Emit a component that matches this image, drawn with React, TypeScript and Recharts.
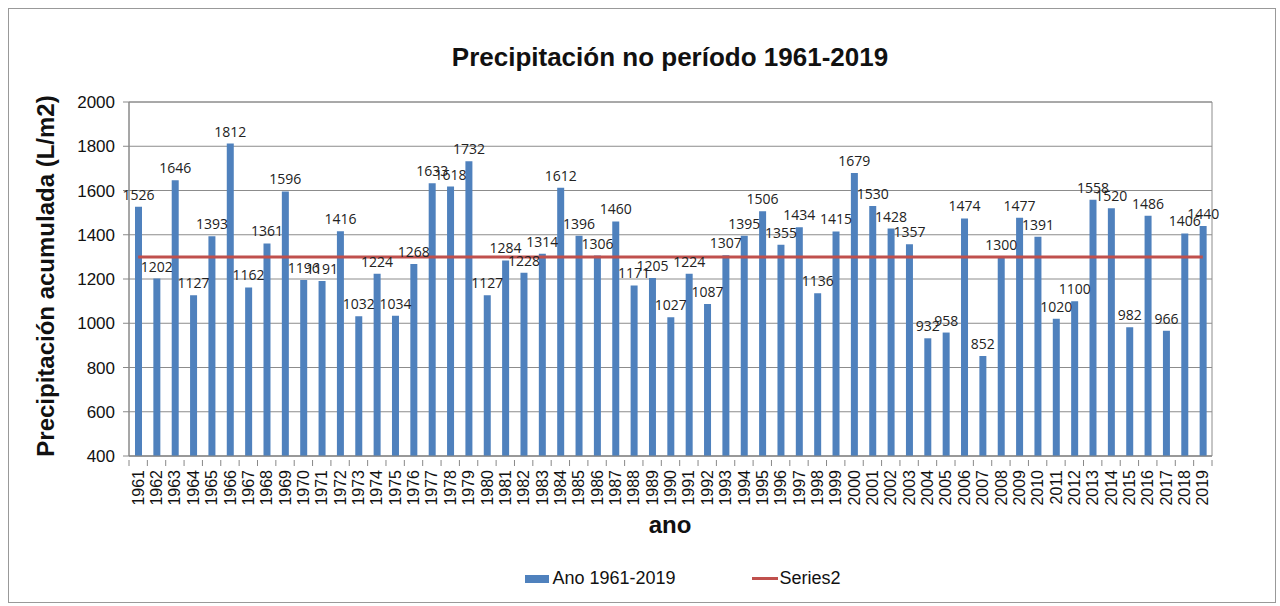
import { ComposedChart, Bar, Line, XAxis, YAxis, CartesianGrid, LabelList, Legend, ReferenceArea } from "recharts";

const anos = [
  "1961", "1962", "1963", "1964", "1965", "1966", "1967", "1968", "1969", "1970",
  "1971", "1972", "1973", "1974", "1975", "1976", "1977", "1978", "1979", "1980",
  "1981", "1982", "1983", "1984", "1985", "1986", "1987", "1988", "1989", "1990",
  "1991", "1992", "1993", "1994", "1995", "1996", "1997", "1998", "1999", "2000",
  "2001", "2002", "2003", "2004", "2005", "2006", "2007", "2008", "2009", "2010",
  "2011", "2012", "2013", "2014", "2015", "2016", "2017", "2018", "2019",
];

const precipitacion = [
  1526, 1202, 1646, 1127, 1393, 1812, 1162, 1361, 1596, 1196,
  1191, 1416, 1032, 1224, 1034, 1268, 1633, 1618, 1732, 1127,
  1284, 1228, 1314, 1612, 1396, 1306, 1460, 1171, 1205, 1027,
  1224, 1087, 1307, 1395, 1506, 1355, 1434, 1136, 1415, 1679,
  1530, 1428, 1357, 932, 958, 1474, 852, 1300, 1477, 1391,
  1020, 1100, 1558, 1520, 982, 1486, 966, 1406, 1440,
];

// Series2: media do período (linha horizontal)
const media = 1300;

const yTicks = [400, 600, 800, 1000, 1200, 1400, 1600, 1800, 2000];

const data = anos.map((ano, i) => ({ ano, valor: precipitacion[i], media }));

const FONT = "'Liberation Sans', Arial, sans-serif";
const PLOT_LEFT = 129;
const PLOT_RIGHT = 1212;
const HALF_BAND = (PLOT_RIGHT - PLOT_LEFT) / anos.length / 2;

const YearTick = (props: any) => {
  const { x, y, payload, index } = props;
  const last = index === anos.length - 1;
  return (
    <g>
      <line x1={x - HALF_BAND} x2={x - HALF_BAND} y1={y - 4} y2={y + 2} stroke="#888" />
      {last && <line x1={x + HALF_BAND} x2={x + HALF_BAND} y1={y - 4} y2={y + 2} stroke="#888" />}
      <text
        transform={`translate(${x},${y + 6}) rotate(-90)`}
        textAnchor="end"
        dy="0.35em"
        fontSize={16}
        fontFamily={FONT}
        fill="#111"
      >
        {payload.value}
      </text>
    </g>
  );
};

const LegendContent = (props: any) => {
  const items = props.payload || [];
  return (
    <div style={{ display: "flex", justifyContent: "center", gap: 76, fontFamily: FONT, fontSize: 18, color: "#111" }}>
      {items.map((it: any) => (
        <div key={it.value} style={{ display: "flex", alignItems: "center" }}>
          {it.type === "line" ? (
            <span style={{ display: "inline-block", width: 26, height: 3, background: it.color, marginRight: 2 }} />
          ) : (
            <span style={{ display: "inline-block", width: 24, height: 8, background: it.color, marginRight: 3 }} />
          )}
          <span>{it.value}</span>
        </div>
      ))}
    </div>
  );
};

export default function App() {
  return (
    <div style={{ position: "absolute", left: 0, top: 0, width: 1280, height: 606, background: "#fff" }}>
      <div style={{ position: "absolute", left: 8, top: 8, width: 1266, height: 593, border: "1px solid #999" }} />
      <div style={{ position: "absolute", left: 370, top: 42, width: 600, height: 30, lineHeight: "30px", textAlign: "center", fontFamily: FONT, fontWeight: "bold", fontSize: 26, color: "#111" }}>
        Precipitación no período 1961-2019
      </div>
      <div
        style={{
          position: "absolute", left: 46 - 200, top: 276 - 14, width: 400, height: 28, lineHeight: "28px",
          textAlign: "center", transform: "rotate(-90deg)", fontFamily: FONT, fontWeight: "bold", fontSize: 24, color: "#111",
        }}
      >
        Precipitación acumulada (L/m2)
      </div>
      <div style={{ position: "absolute", left: 570, top: 511, width: 200, height: 28, lineHeight: "28px", textAlign: "center", fontFamily: FONT, fontWeight: "bold", fontSize: 24, color: "#111" }}>
        ano
      </div>
      <ComposedChart
        width={1280}
        height={606}
        data={data}
        margin={{ top: 102, right: 1280 - PLOT_RIGHT, bottom: 90, left: PLOT_LEFT - 60 }}
        style={{ position: "absolute", left: 0, top: 0 }}
      >
        <CartesianGrid vertical={false} stroke="#8c8c8c" />
        <ReferenceArea y1={400} y2={2000} fill="none" stroke="#8c8c8c" ifOverflow="extendDomain" />
        <XAxis
          dataKey="ano"
          interval={0}
          height={60}
          tickLine={false}
          axisLine={{ stroke: "#888" }}
          tick={<YearTick />}
        />
        <YAxis
          width={60}
          domain={[400, 2000]}
          ticks={yTicks}
          interval={0}
          axisLine={{ stroke: "#888" }}
          tickLine={{ stroke: "#888" }}
          tickSize={6}
          tickMargin={8}
          tick={{ fontSize: 17, fill: "#111", fontFamily: FONT }}
        />
        <Bar dataKey="valor" name="Ano 1961-2019" fill="#4F81BD" barSize={7} isAnimationActive={false}>
          <LabelList dataKey="valor" position="top" offset={7} fontSize={14} fill="#222" fontFamily="'Open Sans', sans-serif" />
        </Bar>
        <Line
          dataKey="media"
          name="Series2"
          type="linear"
          stroke="#C0504D"
          strokeWidth={3}
          dot={false}
          activeDot={false}
          legendType="line"
          isAnimationActive={false}
        />
        <Legend
          verticalAlign="middle"
          layout="horizontal"
          wrapperStyle={{ position: "absolute", top: 568, left: 43, width: 1280 }}
          content={<LegendContent />}
        />
      </ComposedChart>
    </div>
  );
}
